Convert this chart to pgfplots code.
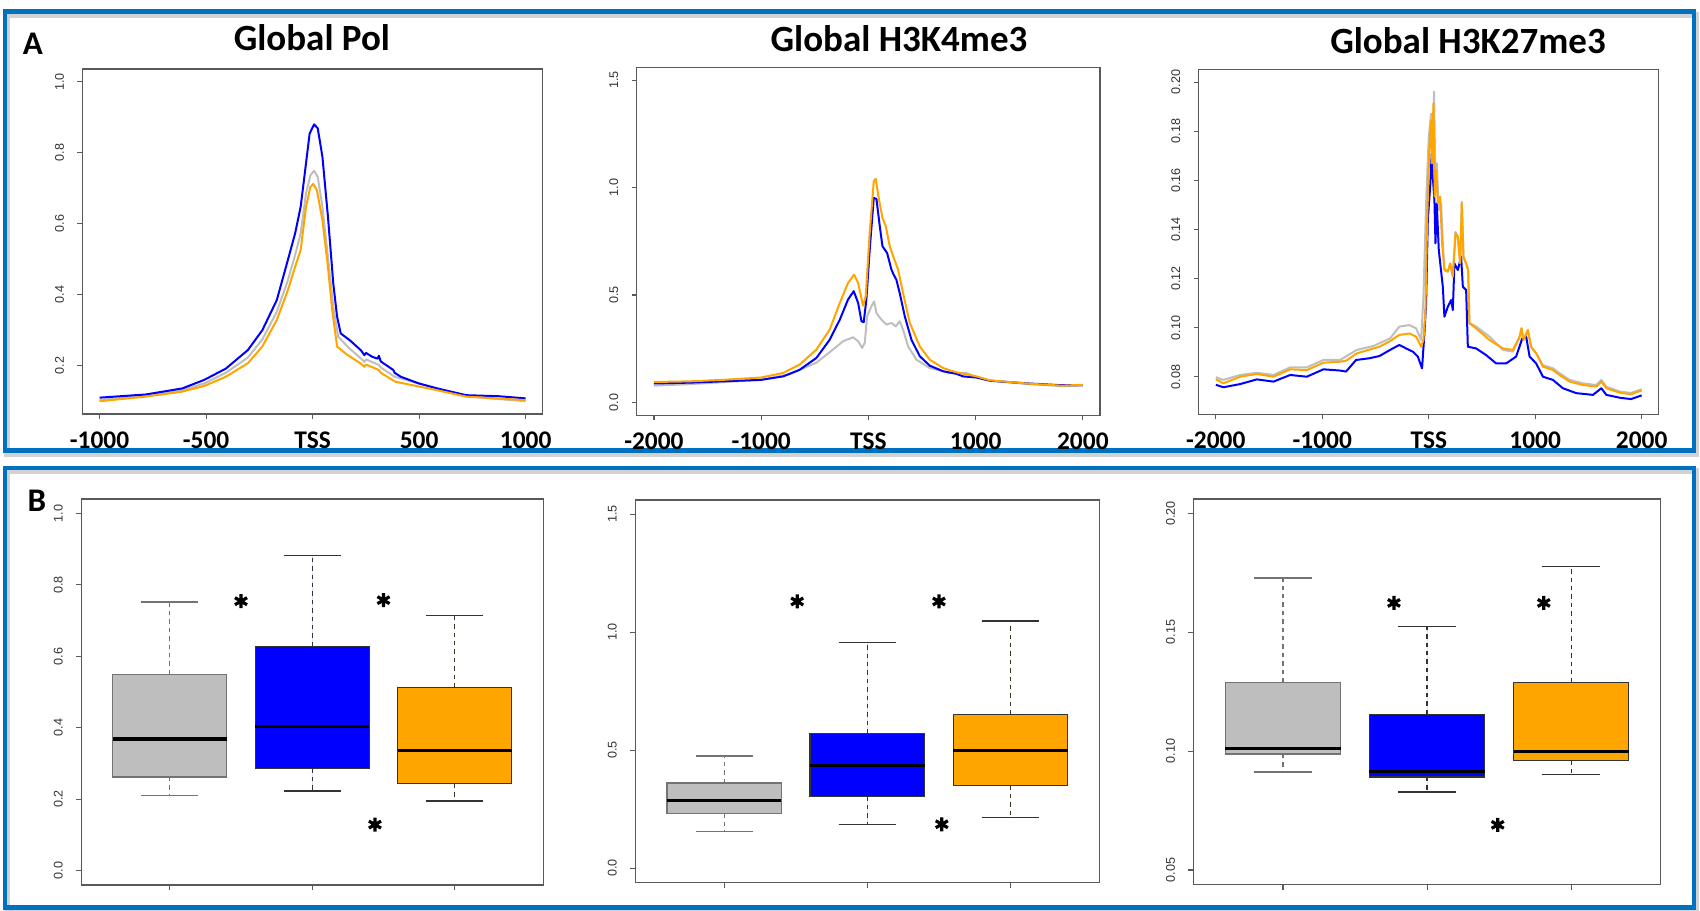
\documentclass[border=0pt]{standalone}
\usepackage{fontspec}
\setmainfont{Carlito}
\newfontfamily\arialf{Liberation Sans}
\usepackage{pgfplots}
\pgfplotsset{compat=1.18}
\usepgfplotslibrary{statistics}
\definecolor{rgray}{RGB}{190,190,190}
\definecolor{rblue}{RGB}{0,0,255}
\definecolor{rorange}{RGB}{255,165,0}
\definecolor{frameblue}{RGB}{0,112,192}
\pgfplotsset{
  boxplot/draw/lower whisker/.code={%
    \draw[/pgfplots/boxplot/every whisker/.try, dash pattern=on 2.2pt off 2pt]
      (boxplot box cs:\pgfplotsboxplotvalue{lower quartile},0.5) --
      (boxplot whisker cs:\pgfplotsboxplotvalue{lower whisker},0.5);
    \draw[/pgfplots/boxplot/every whisker/.try]
      (boxplot whisker cs:\pgfplotsboxplotvalue{lower whisker},0) --
      (boxplot whisker cs:\pgfplotsboxplotvalue{lower whisker},1);
  },
  boxplot/draw/upper whisker/.code={%
    \draw[/pgfplots/boxplot/every whisker/.try, dash pattern=on 2.2pt off 2pt]
      (boxplot box cs:\pgfplotsboxplotvalue{upper quartile},0.5) --
      (boxplot whisker cs:\pgfplotsboxplotvalue{upper whisker},0.5);
    \draw[/pgfplots/boxplot/every whisker/.try]
      (boxplot whisker cs:\pgfplotsboxplotvalue{upper whisker},0) --
      (boxplot whisker cs:\pgfplotsboxplotvalue{upper whisker},1);
  },
  boxplot/every median/.style={line width=1.7pt, draw=black},
  rbase/.style={
    scale only axis, anchor=south west,
    axis line style={black!65, line width=0.55pt},
    tick align=outside, major tick length=2.6pt,
    every tick/.style={black!65, line width=0.55pt},
    xtick pos=lower, ytick pos=lower,
    yticklabel style={rotate=90, anchor=south, inner sep=0pt, font=\arialf\fontsize{6.3}{7}\selectfont, text=black!80},
    yticklabel shift=6.5pt,
  },
  toprow/.style={rbase,
    xticklabel style={anchor=base, inner sep=0pt, font=\fontsize{12.7}{13}\selectfont\bfseries},
    xticklabel shift=14.5pt,
    every axis plot/.append style={line width=1pt, line join=round, no markers},
  },
  botrow/.style={rbase, xtick={1,2,3}, xticklabels={,,}, xmin=0.38, xmax=3.62,
    boxplot/draw direction=y},
  star/.style={only marks, mark=asterisk, mark size=3.5pt, line width=1.6pt, black},
}
\begin{document}
\begin{tikzpicture}
\useasboundingbox (0,0) rectangle (850pt,455pt);
% panel frames with shadow
\draw[gray!35, line width=3pt] ([shift={(0.8pt,-1.6pt)}]2.5pt,229.65pt) rectangle ([shift={(0.8pt,-1.6pt)}]847pt,449.25pt);
\draw[gray!35, line width=3pt] ([shift={(0.8pt,-1.6pt)}]2.5pt,1.6pt) rectangle ([shift={(0.8pt,-1.6pt)}]847pt,221pt);
\draw[frameblue, line width=2.3pt] (2.5pt,229.65pt) rectangle (847pt,449.25pt);
\draw[frameblue, line width=2.3pt] (2.5pt,1.3pt) rectangle (847pt,221pt);

% ---------- Global Pol ----------
\begin{axis}[toprow, at={(41.25pt,248pt)}, width=230.1pt, height=172.5pt,
  xmin=-1080, xmax=1080, ymin=0.064, ymax=1.036,
  xtick={-1000,-500,0,500,1000}, xticklabels={-1000,-500,TSS,500,1000},
  ytick={0.2,0.4,0.6,0.8,1.0}, yticklabels={0.2,0.4,0.6,0.8,1.0}]
\addplot[rgray] coordinates {(-1000,0.103) (-783,0.116) (-612,0.131) (-509,0.150) (-407,0.180) (-304,0.223) (-236,0.274) (-168,0.352) (-116,0.441) (-82,0.512) (-56,0.573) (-31,0.685) (-10,0.737) (7,0.749) (24,0.732) (46,0.648) (72,0.507) (97,0.366) (120,0.282) (170,0.250) (226,0.221) (243,0.211) (251,0.218) (311,0.202) (320,0.195) (385,0.169) (499,0.150) (585,0.136) (721,0.114) (875,0.106) (1000,0.100)};
\addplot[rblue] coordinates {(-1000,0.110) (-783,0.119) (-612,0.136) (-509,0.160) (-407,0.192) (-304,0.244) (-236,0.300) (-168,0.385) (-116,0.498) (-82,0.573) (-56,0.648) (-31,0.770) (-14,0.854) (7,0.880) (24,0.869) (46,0.789) (72,0.620) (97,0.432) (115,0.338) (132,0.291) (174,0.272) (226,0.244) (243,0.230) (251,0.236) (280,0.225) (305,0.220) (311,0.228) (320,0.212) (379,0.188) (385,0.180) (414,0.169) (499,0.150) (585,0.136) (721,0.117) (875,0.114) (1000,0.108)};
\addplot[rorange] coordinates {(-1000,0.100) (-783,0.113) (-612,0.127) (-509,0.143) (-407,0.169) (-304,0.207) (-236,0.254) (-168,0.329) (-116,0.413) (-82,0.479) (-56,0.526) (-31,0.648) (-10,0.704) (3,0.712) (20,0.695) (46,0.610) (72,0.479) (92,0.357) (115,0.254) (160,0.232) (226,0.206) (243,0.197) (251,0.203) (311,0.188) (320,0.180) (388,0.155) (585,0.131) (721,0.113) (1000,0.103)};
\end{axis}

% ---------- Global H3K4me3 ----------
\begin{axis}[toprow, at={(318.4pt,247.35pt)}, width=231.6pt, height=174pt,
  xmin=-2160, xmax=2160, ymin=-0.06, ymax=1.56,
  xtick={-2000,-1000,0,1000,2000}, xticklabels={-2000,-1000,TSS,1000,2000},
  ytick={0,0.5,1.0,1.5}, yticklabels={0.0,0.5,1.0,1.5}]
\addplot[rgray] coordinates {(-2000,0.078) (-1667,0.085) (-1001,0.105) (-734,0.131) (-485,0.185) (-330,0.246) (-236,0.285) (-143,0.303) (-96,0.285) (-59,0.254) (-34,0.277) (-12,0.401) (28,0.447) (53,0.470) (75,0.416) (121,0.385) (168,0.362) (215,0.370) (255,0.354) (292,0.378) (323,0.339) (370,0.261) (448,0.199) (572,0.160) (759,0.137) (914,0.137) (1008,0.116) (1132,0.101) (1500,0.085) (1800,0.076) (2000,0.078)};
\addplot[rblue] coordinates {(-2000,0.088) (-1667,0.092) (-1001,0.105) (-796,0.121) (-641,0.152) (-485,0.207) (-361,0.292) (-267,0.385) (-190,0.479) (-137,0.518) (-96,0.463) (-65,0.378) (-44,0.373) (-19,0.479) (12,0.711) (50,0.952) (75,0.947) (106,0.820) (131,0.727) (174,0.696) (215,0.618) (236,0.594) (261,0.571) (292,0.509) (339,0.401) (401,0.292) (479,0.215) (572,0.171) (697,0.145) (821,0.133) (883,0.121) (1008,0.116) (1132,0.101) (1500,0.088) (1800,0.080) (2000,0.080)};
\addplot[rorange] coordinates {(-2000,0.095) (-1667,0.098) (-1356,0.105) (-1001,0.116) (-796,0.137) (-641,0.176) (-485,0.246) (-361,0.339) (-267,0.463) (-190,0.556) (-134,0.594) (-96,0.556) (-50,0.450) (-25,0.494) (12,0.789) (50,1.030) (68,1.041) (93,0.960) (131,0.859) (162,0.820) (199,0.727) (236,0.673) (277,0.618) (323,0.509) (386,0.370) (479,0.261) (572,0.199) (697,0.160) (821,0.140) (1008,0.121) (1132,0.103) (1500,0.087) (1800,0.078) (2000,0.082)};
\end{axis}

% ---------- Global H3K27me3 ----------
\begin{axis}[toprow, at={(599.4pt,247.85pt)}, width=229.95pt, height=172.5pt,
  xmin=-2160, xmax=2160, ymin=0.0648, ymax=0.2052,
  xtick={-2000,-1000,0,1000,2000}, xticklabels={-2000,-1000,TSS,1000,2000},
  ytick={0.08,0.10,0.12,0.14,0.16,0.18,0.20}, yticklabels={0.08,0.10,0.12,0.14,0.16,0.18,0.20}]
\addplot[rgray] coordinates {(-2000,0.0799) (-1929,0.0788) (-1772,0.0808) (-1615,0.0817) (-1459,0.0808) (-1302,0.0839) (-1146,0.0839) (-990,0.0869) (-833,0.0869) (-676,0.0910) (-520,0.0926) (-363,0.0957) (-276,0.1005) (-182,0.1011) (-119,0.0998) (-72,0.0950) (-50,0.1127) (-25,0.1506) (0,0.1777) (22,0.1872) (38,0.1737) (50,0.1961) (63,0.1561) (75,0.1669) (94,0.1479) (116,0.1506) (132,0.1344) (147,0.124) (179,0.123) (201,0.126) (226,0.121) (251,0.139) (273,0.137) (295,0.126) (310,0.1513) (326,0.129) (351,0.126) (370,0.1235) (382,0.102) (445,0.1005) (571,0.0964) (696,0.0910) (790,0.0903) (853,0.096) (871,0.0998) (890,0.095) (931,0.0991) (962,0.092) (1009,0.0896) (1072,0.0848) (1166,0.0835) (1229,0.0815) (1323,0.0788) (1448,0.0774) (1574,0.0767) (1621,0.0788) (1668,0.076) (1800,0.0740) (1900,0.0735) (2000,0.0750)};
\addplot[rblue] coordinates {(-2000,0.0768) (-1929,0.0758) (-1772,0.0771) (-1615,0.0790) (-1459,0.0781) (-1302,0.0808) (-1146,0.0801) (-990,0.0831) (-833,0.0826) (-777,0.0822) (-683,0.0869) (-558,0.0876) (-464,0.0885) (-339,0.0916) (-276,0.0930) (-213,0.0916) (-150,0.0903) (-103,0.0883) (-63,0.0835) (-41,0.0977) (-25,0.1099) (-9,0.1439) (13,0.1574) (28,0.1710) (38,0.1615) (53,0.1520) (63,0.1344) (75,0.1506) (94,0.1317) (132,0.1167) (147,0.1045) (179,0.1086) (210,0.1113) (226,0.1072) (241,0.1262) (273,0.1235) (304,0.1289) (320,0.1167) (351,0.1154) (367,0.0923) (445,0.0916) (539,0.0889) (633,0.0855) (727,0.0855) (821,0.0883) (878,0.0957) (915,0.0964) (947,0.0883) (1009,0.0855) (1072,0.0801) (1166,0.0788) (1260,0.0754) (1386,0.0734) (1542,0.0727) (1621,0.0754) (1668,0.0727) (1800,0.0715) (1900,0.0710) (2000,0.0725)};
\addplot[rorange] coordinates {(-2000,0.0791) (-1929,0.0774) (-1772,0.0801) (-1615,0.0812) (-1459,0.0801) (-1302,0.0831) (-1146,0.0828) (-990,0.0858) (-833,0.0862) (-777,0.0866) (-676,0.0896) (-621,0.0903) (-520,0.0916) (-464,0.0923) (-370,0.0944) (-276,0.0971) (-182,0.0977) (-119,0.0964) (-72,0.0923) (-50,0.0950) (-31,0.1072) (-16,0.1425) (6,0.1737) (22,0.1845) (31,0.1669) (44,0.1913) (56,0.1534) (69,0.1642) (85,0.1506) (107,0.1534) (125,0.1344) (147,0.1235) (179,0.1228) (201,0.1262) (226,0.1208) (251,0.1384) (273,0.1371) (295,0.1262) (310,0.1506) (326,0.1289) (351,0.1262) (370,0.1235) (382,0.1018) (445,0.0998) (571,0.0950) (696,0.0916) (790,0.0910) (853,0.0964) (871,0.0998) (890,0.0950) (931,0.0991) (962,0.0923) (1009,0.0896) (1072,0.0842) (1166,0.0828) (1229,0.0808) (1323,0.0781) (1448,0.0767) (1574,0.0761) (1621,0.0781) (1668,0.0754) (1800,0.0735) (1900,0.0730) (2000,0.0745)};
\end{axis}

% ---------- Box plots: Pol ----------
\begin{axis}[botrow, at={(40.7pt,12.5pt)}, width=230.85pt, height=193pt,
  ymin=-0.04, ymax=1.04,
  ytick={0,0.2,0.4,0.6,0.8,1.0}, yticklabels={0.0,0.2,0.4,0.6,0.8,1.0}]
\addplot[boxplot prepared={draw position=1, lower whisker=0.211, lower quartile=0.262, median=0.369, upper quartile=0.550, upper whisker=0.752, box extend=0.8, whisker extend=0.4}, fill=rgray, draw=black!55, line width=0.6pt] coordinates {};
\addplot[boxplot prepared={draw position=2, lower whisker=0.223, lower quartile=0.286, median=0.404, upper quartile=0.628, upper whisker=0.882, box extend=0.8, whisker extend=0.4}, fill=rblue, draw=black!80, line width=0.6pt] coordinates {};
\addplot[boxplot prepared={draw position=3, lower whisker=0.195, lower quartile=0.243, median=0.336, upper quartile=0.513, upper whisker=0.714, box extend=0.8, whisker extend=0.4}, fill=rorange, draw=black!80, line width=0.6pt] coordinates {};
\addplot[star] coordinates {(1.50,0.754) (2.50,0.757) (2.44,0.129)};
\end{axis}

% ---------- Box plots: H3K4me3 ----------
\begin{axis}[botrow, at={(317.7pt,13.85pt)}, width=231.95pt, height=191.15pt,
  ymin=-0.06, ymax=1.56,
  ytick={0,0.5,1.0,1.5}, yticklabels={0.0,0.5,1.0,1.5}]
\addplot[boxplot prepared={draw position=1, lower whisker=0.154, lower quartile=0.231, median=0.286, upper quartile=0.361, upper whisker=0.475, box extend=0.8, whisker extend=0.4}, fill=rgray, draw=black!55, line width=0.6pt] coordinates {};
\addplot[boxplot prepared={draw position=2, lower whisker=0.186, lower quartile=0.303, median=0.435, upper quartile=0.570, upper whisker=0.955, box extend=0.8, whisker extend=0.4}, fill=rblue, draw=black!80, line width=0.6pt] coordinates {};
\addplot[boxplot prepared={draw position=3, lower whisker=0.213, lower quartile=0.350, median=0.498, upper quartile=0.651, upper whisker=1.047, box extend=0.8, whisker extend=0.4}, fill=rorange, draw=black!80, line width=0.6pt] coordinates {};
\addplot[star] coordinates {(1.51,1.13) (2.50,1.13) (2.52,0.186)};
\end{axis}

% ---------- Box plots: H3K27me3 ----------
\begin{axis}[botrow, at={(596.8pt,12.85pt)}, width=233.45pt, height=192.65pt,
  ymin=0.044, ymax=0.206,
  ytick={0.05,0.10,0.15,0.20}, yticklabels={0.05,0.10,0.15,0.20}]
\addplot[boxplot prepared={draw position=1, lower whisker=0.0912, lower quartile=0.0988, median=0.1012, upper quartile=0.1289, upper whisker=0.1728, box extend=0.8, whisker extend=0.4}, fill=rgray, draw=black!55, line width=0.6pt] coordinates {};
\addplot[boxplot prepared={draw position=2, lower whisker=0.0828, lower quartile=0.0891, median=0.0914, upper quartile=0.1155, upper whisker=0.1524, box extend=0.8, whisker extend=0.4}, fill=rblue, draw=black!80, line width=0.6pt] coordinates {};
\addplot[boxplot prepared={draw position=3, lower whisker=0.0900, lower quartile=0.0960, median=0.0999, upper quartile=0.1287, upper whisker=0.1776, box extend=0.8, whisker extend=0.4}, fill=rorange, draw=black!80, line width=0.6pt] coordinates {};
\addplot[star] coordinates {(1.77,0.1623) (2.81,0.1623) (2.49,0.069)};
\end{axis}

% ---------- titles and panel letters ----------
\node[anchor=base, font=\fontsize{18.5}{20}\selectfont\bfseries] at (155.95pt,429.5pt) {Global Pol};
\node[anchor=base, font=\fontsize{18.5}{20}\selectfont\bfseries] at (449.5pt,429.15pt) {Global H3K4me3};
\node[anchor=base, font=\fontsize{18.5}{20}\selectfont\bfseries] at (734pt,428.35pt) {Global H3K27me3};
\node[anchor=base, font=\fontsize{16.5}{18}\selectfont\bfseries] at (16.4pt,427.5pt) {A};
\node[anchor=base, font=\fontsize{16.5}{18}\selectfont\bfseries] at (18.4pt,199.15pt) {B};
\end{tikzpicture}
\end{document}
